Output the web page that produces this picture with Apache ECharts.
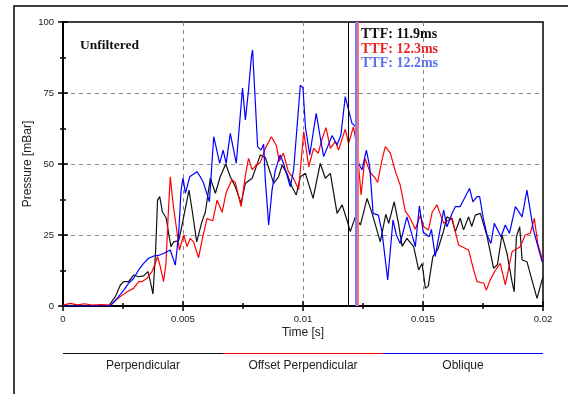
<!DOCTYPE html>
<html>
<head>
<meta charset="utf-8">
<script src="https://cdn.jsdelivr.net/npm/echarts@6/dist/echarts.min.js"></script>
<style>
  html, body { margin: 0; padding: 0; background: #fff; }
  #chart { width: 568px; height: 394px; }
</style>
</head>
<body>
<div id="chart"></div>
<script>
// times in ms, pressure in mBar
const timePerp = [0, 1.9, 1.97, 2.18, 2.39, 2.53, 2.73, 2.94, 3.15, 3.36, 3.54, 3.64, 3.75, 3.86, 3.94, 4.03, 4.14, 4.3, 4.4, 4.5, 4.61, 4.82, 4.92, 5.25, 5.38, 5.57, 5.79, 5.93, 6.14, 6.35, 6.55, 6.78, 6.97, 7.18, 7.42, 7.6, 7.88, 8.05, 8.22, 8.43, 8.78, 8.98, 9.13, 9.33, 9.54, 9.72, 9.89, 10.1, 10.42, 10.72, 10.93, 11.14, 11.42, 11.63, 11.83, 11.97, 12.18, 12.39, 12.67, 12.88, 13.22, 13.45, 13.57, 13.8, 13.98, 14.13, 14.33, 14.61, 14.82, 14.96, 15.1, 15.22, 15.41, 15.62, 15.83, 16.0, 16.21, 16.35, 16.55, 16.69, 16.9, 17.03, 17.18, 17.39, 17.67, 17.94, 18.1, 18.29, 18.5, 18.71, 18.8, 18.89, 19.03, 19.13, 19.33, 19.75, 19.96, 20];
const perpendicular = [0, 0, 0.3, 3.3, 7.4, 8.6, 8.6, 10.9, 10.3, 10.6, 12.1, 8.6, 4.2, 19.7, 37.3, 38.5, 33.2, 31, 25.6, 20.9, 22.6, 23, 26.8, 40.8, 33.8, 22.6, 29.7, 33, 45, 39.7, 45.5, 50, 45.5, 42, 36.2, 43.2, 45, 49, 53.2, 52.3, 43.2, 45.5, 49.6, 46.7, 42, 39.1, 45.5, 46.7, 37.9, 50.2, 45, 46.7, 32.6, 35.6, 30.3, 26.2, 31.4, 28.5, 37.9, 32.6, 22.6, 32.3, 29.1, 36.7, 29, 21, 23.8, 20.9, 12.7, 15, 6.2, 7, 17.4, 20, 25.6, 31.4, 30.3, 26.2, 30.9, 26.8, 31.4, 28, 32, 32.6, 24.5, 13.3, 14.5, 25, 18.5, 8.5, 5, 24.4, 27.9, 16.2, 15.6, 2.7, 9.2, 10];

const timeOffset = [0, 0.3, 0.6, 0.9, 1.2, 1.6, 1.97, 2.04, 2.39, 2.67, 2.94, 3.15, 3.3, 3.5, 3.71, 3.85, 3.94, 4.05, 4.19, 4.29, 4.38, 4.47, 4.6, 4.72, 4.85, 5.03, 5.17, 5.3, 5.44, 5.65, 5.79, 6.0, 6.24, 6.42, 6.63, 6.8, 7.04, 7.18, 7.42, 7.6, 7.73, 7.88, 8.05, 8.22, 8.43, 8.68, 8.89, 9.01, 9.18, 9.39, 9.6, 9.82, 10.03, 10.24, 10.44, 10.64, 10.76, 10.96, 11.14, 11.35, 11.48, 11.76, 11.9, 12.1, 12.25, 12.42, 12.58, 12.8, 13.01, 13.11, 13.29, 13.43, 13.64, 13.85, 14.05, 14.26, 14.47, 14.68, 14.89, 15.03, 15.23, 15.38, 15.58, 15.86, 16.21, 16.48, 16.9, 17.11, 17.25, 17.53, 17.64, 17.8, 18.01, 18.22, 18.43, 18.71, 19.05, 19.26, 19.47, 19.64, 19.78, 20];
const offsetPerp = [0.3, 0.9, 0.4, 0.8, 0.3, 0.5, 0.3, 0.5, 3.3, 5, 6.2, 8.6, 8.6, 9.7, 12.2, 15, 17.4, 14, 8.6, 15, 31.4, 45.5, 35, 27.9, 19.7, 25, 20.9, 23.8, 22.6, 17, 23, 30.8, 30, 37.3, 33, 40, 44.5, 43.5, 35, 46, 52, 48, 49.5, 50.5, 55.5, 59.6, 56.5, 51, 53.8, 47.3, 45, 41, 61.4, 49, 55.5, 53.8, 58, 62.8, 55.5, 58, 54.9, 62.3, 57.3, 63.1, 56, 39.1, 52, 47, 45, 43.5, 51.4, 56.1, 53.8, 47.3, 42.6, 33.5, 30.8, 27, 32, 27.9, 26.8, 33, 35.6, 29.1, 31, 21.5, 19.7, 12.7, 8.6, 8, 5.6, 9.2, 12.5, 15, 7.4, 19.1, 20.9, 25, 25.6, 30.9, 22, 15.6];

const timeOblique = [0, 1.97, 2.32, 2.53, 2.73, 2.94, 3.15, 3.36, 3.57, 3.78, 3.98, 4.19, 4.47, 4.68, 4.82, 4.92, 5.0, 5.1, 5.28, 5.58, 5.72, 5.86, 6.1, 6.28, 6.53, 6.67, 6.8, 6.97, 7.22, 7.48, 7.6, 7.73, 7.85, 7.9, 8.11, 8.25, 8.36, 8.43, 8.57, 8.71, 8.85, 9.05, 9.19, 9.47, 9.61, 9.89, 10.0, 10.1, 10.28, 10.55, 10.69, 10.86, 11.21, 11.42, 11.58, 11.76, 11.9, 12.04, 12.22, 12.32, 12.46, 12.64, 12.78, 12.92, 13.14, 13.29, 13.53, 13.75, 13.89, 14.05, 14.33, 14.51, 14.68, 14.85, 15.01, 15.26, 15.35, 15.51, 15.86, 16.0, 16.21, 16.35, 16.55, 16.76, 16.94, 17.08, 17.25, 17.36, 17.51, 17.67, 17.83, 17.97, 18.25, 18.43, 18.6, 18.85, 19.13, 19.33, 19.6, 19.96, 20];
const oblique = [0, 0, 3.3, 5.6, 8, 9.7, 12.7, 15, 16.8, 17.6, 17.8, 18.5, 19.7, 14.4, 25.6, 40.8, 45, 39.7, 45.5, 47.3, 45.5, 43.2, 36.7, 59.6, 50.2, 54.9, 50.2, 60.8, 50.2, 76.7, 65.5, 76.1, 87.8, 90.1, 56.1, 54.9, 57, 44.4, 28.5, 40.8, 47.9, 53.2, 50.2, 42, 47.9, 77.8, 76.7, 63.1, 53.2, 67.8, 60.8, 52.6, 60, 56.7, 60.2, 73.7, 69, 64.3, 63, 50.2, 47.9, 54.9, 49, 32.6, 32, 26.2, 9.2, 30.3, 25, 22, 31.4, 26, 20.9, 35.3, 26, 24.4, 27, 17.5, 33.8, 27.9, 32.6, 35, 35, 38.5, 41.4, 36.7, 38.5, 38.5, 31, 25, 22, 29.1, 24.4, 28.5, 25.6, 35, 31.4, 40.8, 26.8, 15.6, 16];

const seriesNames = ['Perpendicular', 'Offset Perpendicular', 'Oblique'];
const seriesColors = ['#111111', '#ff0000', '#0000ff'];
const ttfValues = [11.9, 12.3, 12.2];   // ms
const ttfLineColors = ['#000000', '#ff7070', '#7080ff'];
const ttfTextColors = ['#111111', '#ee2222', '#5a70ee'];
const xTicks = [0, 5, 10, 15, 20];      // ms, shown in seconds
const yTicks = [0, 25, 50, 75, 100];

const zip = (t, v) => t.map((x, i) => [x, v[i]]);
const seriesData = [
    zip(timePerp, perpendicular),
    zip(timeOffset, offsetPerp),
    zip(timeOblique, oblique)
];

const sans = '"Liberation Sans", Arial, sans-serif';
const serif = '"Liberation Serif", "Times New Roman", serif';

const chart = echarts.init(document.getElementById('chart'));

function baseX(inside, show) {
    return {
        type: 'value',
        position: 'bottom',
        min: xTicks[0],
        max: xTicks[xTicks.length - 1],
        interval: 5,
        axisLine: { show: show, lineStyle: { color: '#000', width: 2 } },
        axisTick: { show: true, inside: inside, length: 5, lineStyle: { color: '#000', width: 1.5 } },
        minorTick: { show: true, splitNumber: 2, length: 3, lineStyle: { color: '#000', width: 1.5 } },
        axisLabel: {
            show: show,
            margin: 8,
            color: '#222',
            fontSize: 9.5,
            fontFamily: sans,
            formatter: v => String(v / 1000)
        },
        splitLine: show ? {
            show: true,
            showMinLine: false,
            showMaxLine: false,
            lineStyle: { color: '#8a8a8a', type: [4, 4], width: 1 }
        } : { show: false },
        name: show ? 'Time [s]' : '',
        nameLocation: 'middle',
        nameGap: 21,
        nameMoveOverlap: false,
        nameTextStyle: { color: '#222', fontSize: 12, fontFamily: sans }
    };
}

function baseY(inside, show) {
    return {
        type: 'value',
        position: 'left',
        min: yTicks[0],
        max: yTicks[yTicks.length - 1],
        interval: 25,
        axisLine: { show: show, lineStyle: { color: '#000', width: 2 } },
        axisTick: { show: true, inside: inside, length: 5, lineStyle: { color: '#000', width: 1.5 } },
        minorTick: { show: true, splitNumber: 2, length: 3, lineStyle: { color: '#000', width: 1.5 } },
        axisLabel: { show: show, margin: 9, color: '#222', fontSize: 9.5, fontFamily: sans },
        splitLine: show ? {
            show: true,
            showMinLine: false,
            showMaxLine: false,
            lineStyle: { color: '#8a8a8a', type: [4, 4], width: 1 }
        } : { show: false },
        name: show ? 'Pressure [mBar]' : '',
        nameLocation: 'middle',
        nameGap: 29,
        nameMoveOverlap: false,
        nameTextStyle: { color: '#222', fontSize: 12, fontFamily: sans }
    };
}

const graphics = [
    {
        type: 'polyline',
        shape: { points: [[14, 394], [14, 6], [568, 6]] },
        style: { stroke: '#000', lineWidth: 1.5, fill: null },
        silent: true
    },
    {
        type: 'text',
        x: 80, y: 46,
        style: {
            text: 'Unfiltered', font: 'bold 13.5px ' + serif, fill: '#111',
            textAlign: 'left', align: 'left', textVerticalAlign: 'middle', verticalAlign: 'middle'
        }
    }
];

const ttfTextY = [34.5, 49, 63.5];
ttfValues.forEach((v, i) => {
    graphics.push({
        type: 'text',
        x: 361, y: ttfTextY[i],
        style: {
            text: 'TTF: ' + v + 'ms', font: 'bold 14px ' + serif, fill: ttfTextColors[i],
            textAlign: 'left', align: 'left', textVerticalAlign: 'middle', verticalAlign: 'middle'
        }
    });
});

// legend: coloured line over a centred label, one third of the plot width each
const legLeft = 63, legWidth = 160;
seriesNames.forEach((name, i) => {
    graphics.push({
        type: 'line',
        shape: { x1: legLeft + i * legWidth, y1: 353.5, x2: legLeft + (i + 1) * legWidth, y2: 353.5 },
        style: { stroke: seriesColors[i], lineWidth: 1.2 },
        silent: true
    });
    graphics.push({
        type: 'text',
        x: legLeft + i * legWidth + legWidth / 2, y: 366,
        style: {
            text: name, font: '12px ' + sans, fill: '#222',
            textAlign: 'center', align: 'center', textVerticalAlign: 'middle', verticalAlign: 'middle'
        }
    });
});

chart.setOption({
    backgroundColor: '#fff',
    animation: false,
    grid: {
        left: 63, right: 25, top: 22, bottom: 88,
        show: true, borderColor: '#000', borderWidth: 1.5, backgroundColor: 'transparent'
    },
    xAxis: [baseX(false, true), baseX(true, false)],
    yAxis: [baseY(false, true), baseY(true, false)],
    series: seriesData.map((d, i) => ({
        name: seriesNames[i],
        type: 'line',
        xAxisIndex: 0,
        yAxisIndex: 0,
        data: d,
        showSymbol: false,
        lineStyle: { color: seriesColors[i], width: 1.2 },
        itemStyle: { color: seriesColors[i] },
        markLine: {
            silent: true,
            symbol: 'none',
            label: { show: false },
            lineStyle: { color: ttfLineColors[i], width: i === 0 ? 1 : 2, type: 'solid' },
            data: [{ xAxis: ttfValues[i] }]
        }
    })),
    graphic: graphics
});
</script>
</body>
</html>
